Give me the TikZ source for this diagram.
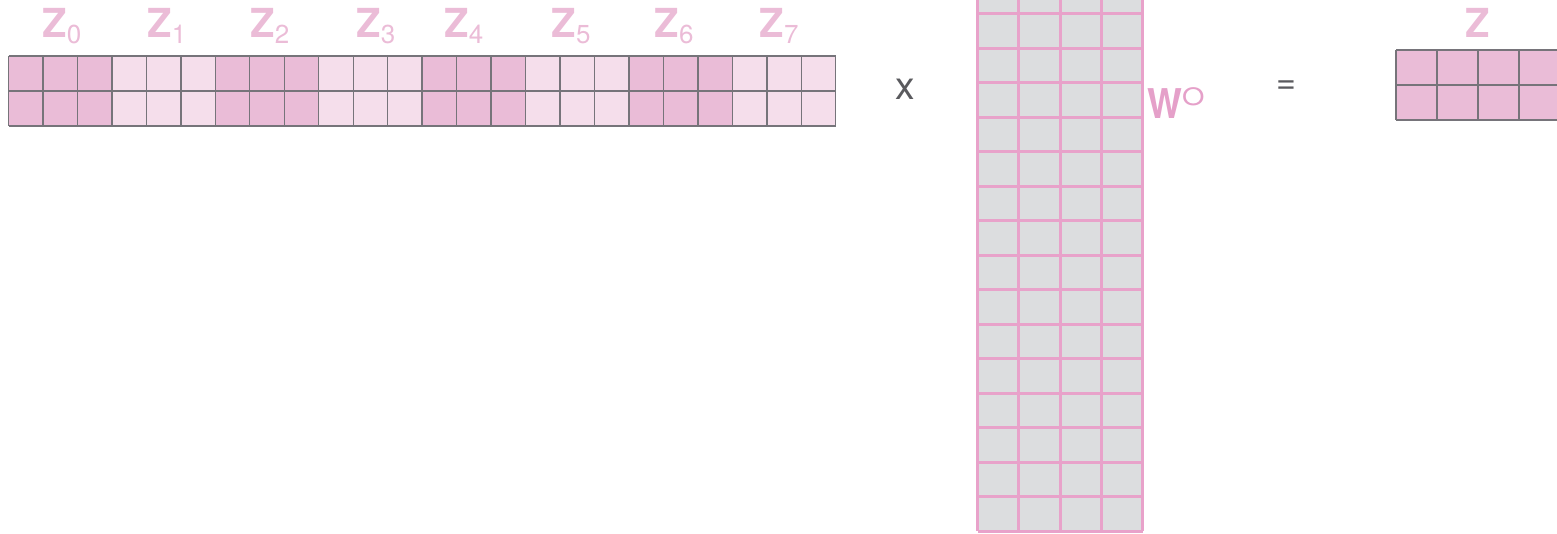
\documentclass[tikz,border=0pt]{standalone}
\usepackage{fontspec}
\setmainfont{TeX Gyre Heros}

\definecolor{headdark}{HTML}{EABCD7}
\definecolor{headlight}{HTML}{F5DEEB}
\definecolor{gridgray}{HTML}{76747A}
\definecolor{wfill}{HTML}{DCDDDF}
\definecolor{wline}{HTML}{E8A2CA}
\definecolor{labelpink}{HTML}{EBBCD7}
\definecolor{wlabel}{HTML}{E5A0C9}
\definecolor{opgray}{HTML}{5A5A5E}

\newcommand{\headname}[1]{\textbf{Z}{\fontsize{26}{26}\selectfont\raisebox{-6pt}{#1}}}

\begin{document}
\begin{tikzpicture}[x=1pt,y=-1pt,
    headlabel/.style={labelpink, inner sep=0pt, anchor=base, font=\fontsize{40}{40}\selectfont},
    opsign/.style={opgray, inner sep=0pt, anchor=center},
    cellline/.style={gridgray, line width=1.3pt},
    wcellline/.style={wline, line width=3pt}]
    \useasboundingbox (0,0) rectangle (1557,533);
    \clip (0,0) rectangle (1557,533);

    % Concatenated heads Z_0 ... Z_7 (3 columns each)
    \foreach \g/\lx/\col in {0/62/headdark,1/167/headlight,2/270/headdark,3/376/headlight,
                             4/464/headdark,5/571/headlight,6/674/headdark,7/779/headlight}{
        \fill[\col] (8.5+103.4*\g,56) rectangle +(103.4,70);
        \node[headlabel] (z\g) at (\lx,37) {\headname{\g}};
    }
    \foreach \c in {0,...,24}
        \draw[cellline] (8.5+34.47*\c,56) -- ++(0,70);
    \foreach \r in {0,1,2}
        \draw[cellline] (8.5,56+35*\r) -- ++(827.3,0);

    % times sign
    \node[opsign, font=\fontsize{39}{39}\selectfont] (times) at (905.5,89.5) {x};

    % Output weight matrix W^O (runs off the top edge)
    \fill[wfill] (977.5,-20.5) rectangle (1142.5,531);
    \foreach \c in {0,...,4}
        \draw[wcellline] (977.5+41.25*\c,-20.5) -- (977.5+41.25*\c,531);
    \foreach \r in {0,...,16}
        \draw[wcellline] (977.5,531-34.47*\r) -- (1142.5,531-34.47*\r);
    \node[wlabel, inner sep=0pt, anchor=base west, font=\fontsize{41}{41}\selectfont\bfseries] (wo)
        at (1147,118) {\scalebox{0.9}[1]{W}\raisebox{13pt}{\fontsize{24}{24}\selectfont\mdseries\scalebox{1.2}[1]{O}}};

    % equals sign
    \node[opsign, font=\fontsize{34}{34}\selectfont] (equals) at (1286,87.5) {=};

    % Result Z (runs off the right edge)
    \fill[headdark] (1396,50) rectangle (1560,120);
    \foreach \c in {0,...,4}
        \draw[cellline] (1396+41*\c,50) -- ++(0,70);
    \foreach \r in {0,1,2}
        \draw[cellline] (1396,50+35*\r) -- ++(164,0);
    \node[headlabel, font=\fontsize{40}{40}\selectfont\bfseries] (zout) at (1478,37) {Z};
\end{tikzpicture}
\end{document}
